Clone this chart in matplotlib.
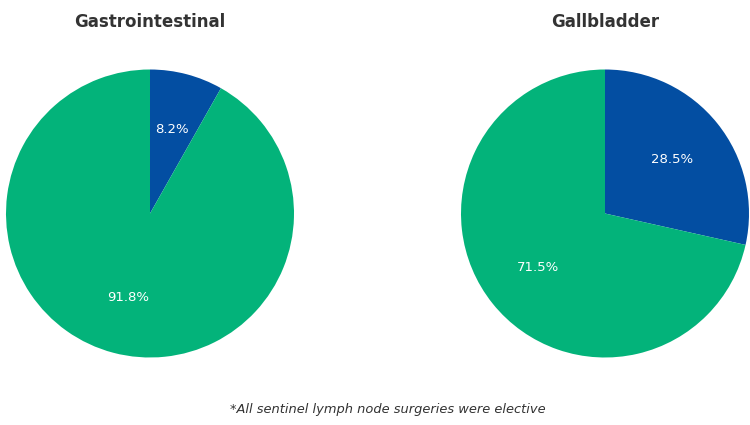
import matplotlib.pyplot as plt

titles = ["Gastrointestinal", "Gallbladder"]
shares = [[8.2, 91.8], [28.5, 71.5]]
colors = ["#034ea2", "#03b37a"]
footnote = "*All sentinel lymph node surgeries were elective"

W, H = 750, 425
fig = plt.figure(figsize=(W / 100, H / 100), dpi=100)

centers_x = [150, 605]
cy, r = 213.5, 144

for title, vals, cx in zip(titles, shares, centers_x):
    ax = fig.add_axes([(cx - r) / W, 1 - (cy + r) / H, 2 * r / W, 2 * r / H])
    ax.pie(
        vals,
        colors=colors,
        startangle=90,
        counterclock=False,
        autopct="%.1f%%",
        pctdistance=0.6,
        textprops={"color": "white", "fontsize": 9.5},
    )
    ax.set_xlim(-1, 1)
    ax.set_ylim(-1, 1)
    fig.text(cx / W, 1 - 22 / H, title, ha="center", va="center",
             fontsize=12, fontweight="bold", color="#333333")

fig.text(388 / W, 1 - 410 / H, footnote, ha="center", va="center",
         fontsize=9.4, style="italic", color="#333333")

fig.savefig("out.png", dpi=100)
